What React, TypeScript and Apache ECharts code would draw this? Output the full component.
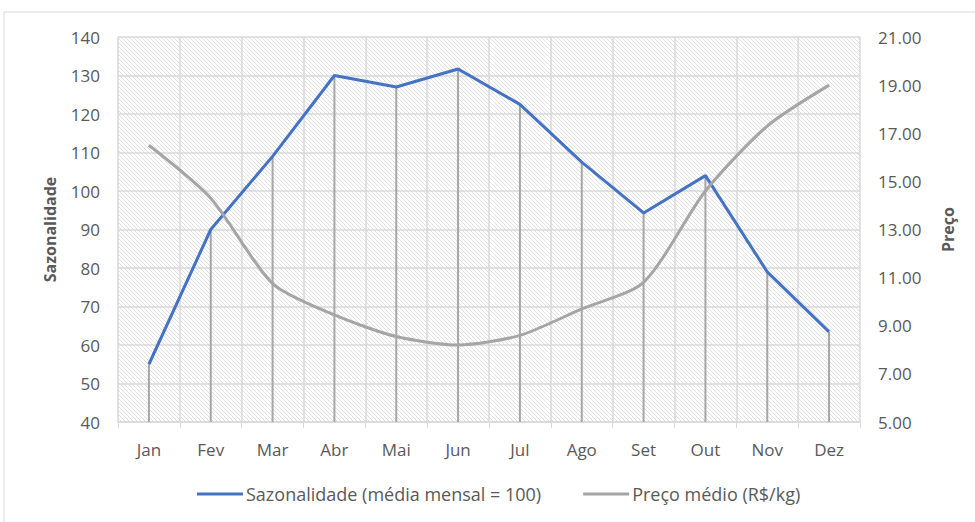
import React, { useEffect, useRef } from "react";
import * as echarts from "echarts";

const months = ["Jan", "Fev", "Mar", "Abr", "Mai", "Jun", "Jul", "Ago", "Set", "Out", "Nov", "Dez"];
const sazonalidade = [55, 90, 109, 130, 127, 131.7, 122.5, 107.5, 94.3, 104, 79, 63.4];
const preco = [16.5, 14.3, 10.75, 9.45, 8.55, 8.2, 8.6, 9.7, 10.8, 14.6, 17.3, 19.0];

const makeHatch = (): string => {
  const s = 4;
  const c = document.createElement("canvas");
  c.width = s;
  c.height = s;
  const ctx = c.getContext("2d")!;
  ctx.fillStyle = "#ffffff";
  ctx.fillRect(0, 0, s, s);
  ctx.strokeStyle = "#dedede";
  ctx.lineWidth = 0.9;
  ctx.beginPath();
  ctx.moveTo(-1, -1);
  ctx.lineTo(s + 1, s + 1);
  ctx.moveTo(-1 - s, -1);
  ctx.lineTo(1, s + 1);
  ctx.moveTo(s - 1, -1);
  ctx.lineTo(2 * s + 1, s + 1);
  ctx.stroke();
  return c.toDataURL();
};

export default function App() {
  const ref = useRef<HTMLDivElement>(null);
  useEffect(() => {
    if (!ref.current) return;
    const chart = echarts.init(ref.current, undefined, { renderer: "svg" });
    const font = "'Open Sans', 'Noto Sans', sans-serif";
    const labelColor = "#595959";
    chart.setOption({
      animation: false,
      textStyle: { fontFamily: font },
      graphic: [
        {
          type: "rect",
          shape: { x: 4, y: 12, width: 975, height: 520 },
          style: { fill: "none", stroke: "#d9d9d9", lineWidth: 1 },
          silent: true,
        },
      ],
      grid: {
        left: 118,
        right: 115,
        top: 37,
        bottom: 100,
        show: true,
        borderWidth: 0,
        backgroundColor: { image: makeHatch(), repeat: "repeat" },
      },
      legend: {
        bottom: 14,
        left: 192,
        itemGap: 42,
        itemWidth: 46,
        itemHeight: 3,
        data: [
          { name: "Sazonalidade (média mensal = 100)", icon: "rect" },
          { name: "Preço médio (R$/kg)", icon: "rect" },
        ],
        textStyle: { fontSize: 18, color: labelColor, fontFamily: font, padding: [0, 0, 0, -2] },
      },
      xAxis: {
        type: "category",
        data: months,
        boundaryGap: true,
        axisLine: { lineStyle: { color: "#d9d9d9", width: 1.5 } },
        axisTick: { show: true, length: 6, lineStyle: { color: "#d9d9d9" } },
        axisLabel: { fontSize: 17, color: labelColor, margin: 19 },
        splitLine: { show: true, lineStyle: { color: "#d9d9d9", width: 1.5 } },
      },
      yAxis: [
        {
          type: "value",
          min: 40,
          max: 140,
          interval: 10,
          name: "Sazonalidade",
          nameLocation: "middle",
          nameRotate: 90,
          nameGap: 60,
          nameTextStyle: { fontSize: 16, fontWeight: "bold", color: labelColor },
          axisLabel: { fontSize: 17, color: labelColor, margin: 18 },
          axisLine: { show: false },
          axisTick: { show: false },
          splitLine: { lineStyle: { color: "#d9d9d9", width: 1.5 } },
        },
        {
          type: "value",
          min: 5,
          max: 21,
          interval: 2,
          name: "Preço",
          nameLocation: "middle",
          nameRotate: 90,
          nameGap: 80,
          nameTextStyle: { fontSize: 16, fontWeight: "bold", color: labelColor },
          axisLabel: { fontSize: 17, color: labelColor, margin: 18, formatter: (v: number) => v.toFixed(2) },
          axisLine: { show: false },
          axisTick: { show: false },
          splitLine: { show: false },
        },
      ],
      series: [
        {
          name: "drop",
          type: "bar",
          data: sazonalidade,
          barWidth: 2,
          itemStyle: { color: "#a6a6a6" },
          yAxisIndex: 0,
          silent: true,
        },
        {
          name: "Sazonalidade (média mensal = 100)",
          type: "line",
          data: sazonalidade,
          yAxisIndex: 0,
          symbol: "none",
          lineStyle: { color: "#4472C4", width: 3 },
          itemStyle: { color: "#4472C4" },
        },
        {
          name: "Preço médio (R$/kg)",
          type: "line",
          data: preco,
          yAxisIndex: 1,
          symbol: "none",
          smooth: 0.25,
          lineStyle: { color: "#A5A5A5", width: 3 },
          itemStyle: { color: "#A5A5A5" },
        },
      ],
    });
    return () => chart.dispose();
  }, []);
  return <div ref={ref} style={{ width: 975, height: 522, position: "absolute", left: 0, top: 0 }} />;
}
